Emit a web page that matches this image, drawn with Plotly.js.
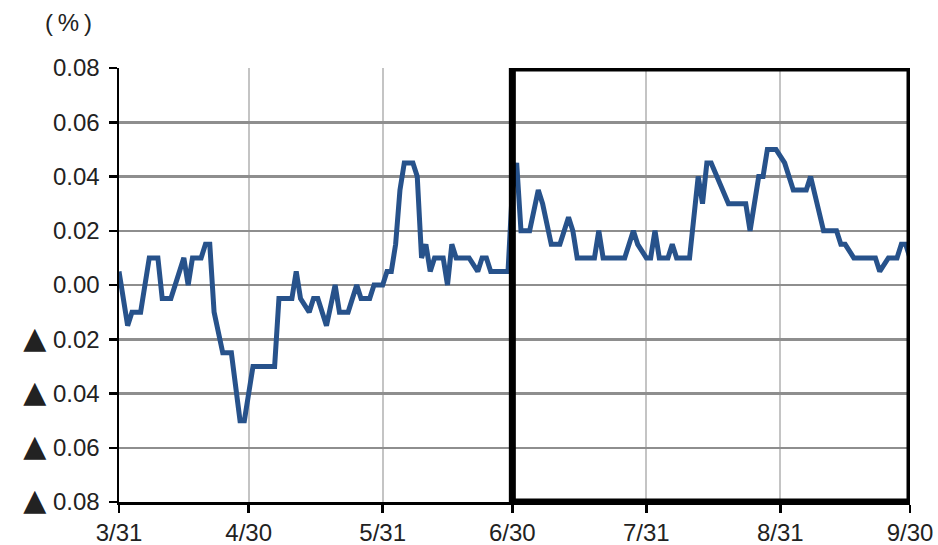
<!DOCTYPE html>
<html>
<head>
<meta charset="utf-8">
<script src="https://cdn.plot.ly/plotly-3.0.1.min.js"></script>
<style>
  html, body { margin: 0; padding: 0; background: #ffffff; }
  #chart { width: 938px; height: 545px; }
</style>
</head>
<body>
<div id="chart"></div>
<script>
// Daily spread (%) from 3/31 to 9/30
const dates = [
  '2014-03-31','2014-04-02','2014-04-03','2014-04-05','2014-04-07','2014-04-09','2014-04-10','2014-04-12',
  '2014-04-15','2014-04-16','2014-04-17','2014-04-19','2014-04-20','2014-04-21','2014-04-22','2014-04-24',
  '2014-04-26','2014-04-28','2014-04-29','2014-05-01','2014-05-06','2014-05-07','2014-05-10','2014-05-11',
  '2014-05-12','2014-05-14','2014-05-15','2014-05-16','2014-05-18','2014-05-20','2014-05-21','2014-05-23',
  '2014-05-25','2014-05-26','2014-05-28','2014-05-29','2014-05-31','2014-06-01','2014-06-02','2014-06-03',
  '2014-06-04','2014-06-05','2014-06-07','2014-06-08','2014-06-09','2014-06-10','2014-06-11','2014-06-12',
  '2014-06-14','2014-06-15','2014-06-16','2014-06-17','2014-06-20','2014-06-22','2014-06-23','2014-06-24',
  '2014-06-25','2014-06-29','2014-06-30','2014-07-01','2014-07-02','2014-07-04','2014-07-06','2014-07-07',
  '2014-07-09','2014-07-11','2014-07-13','2014-07-14','2014-07-15','2014-07-19','2014-07-20','2014-07-21',
  '2014-07-26','2014-07-28','2014-07-29','2014-07-31','2014-08-01','2014-08-02','2014-08-03','2014-08-05',
  '2014-08-06','2014-08-07','2014-08-10','2014-08-12','2014-08-13','2014-08-14','2014-08-15','2014-08-19',
  '2014-08-23','2014-08-24','2014-08-26','2014-08-27','2014-08-28','2014-08-30','2014-09-01','2014-09-03',
  '2014-09-06','2014-09-07','2014-09-10','2014-09-13','2014-09-14','2014-09-15','2014-09-17','2014-09-22',
  '2014-09-23','2014-09-25','2014-09-27','2014-09-28','2014-09-29','2014-09-30'
];
const spread = [
  0.005,-0.015,-0.01,-0.01,0.01,0.01,-0.005,-0.005,
  0.01,0,0.01,0.01,0.015,0.015,-0.01,-0.025,
  -0.025,-0.05,-0.05,-0.03,-0.03,-0.005,-0.005,0.005,
  -0.005,-0.01,-0.005,-0.005,-0.015,0,-0.01,-0.01,
  0,-0.005,-0.005,0,0,0.005,0.005,0.015,
  0.035,0.045,0.045,0.04,0.01,0.015,0.005,0.01,
  0.01,0,0.015,0.01,0.01,0.005,0.01,0.01,
  0.005,0.005,0.035,0.045,0.02,0.02,0.035,0.03,
  0.015,0.015,0.025,0.02,0.01,0.01,0.02,0.01,
  0.01,0.02,0.015,0.01,0.01,0.02,0.01,0.01,
  0.015,0.01,0.01,0.04,0.03,0.045,0.045,0.03,
  0.03,0.02,0.04,0.04,0.05,0.05,0.045,0.035,
  0.035,0.04,0.02,0.02,0.015,0.015,0.01,0.01,
  0.005,0.01,0.01,0.015,0.015,0.01
];

// Axis ticks
const xTickVals = ['2014-03-31','2014-04-30','2014-05-31','2014-06-30','2014-07-31','2014-08-31','2014-09-30'];
const xTickText = ['3/31','4/30','5/31','6/30','7/31','8/31','9/30'];
const yTickVals = [0.08,0.06,0.04,0.02,0,-0.02,-0.04,-0.06,-0.08];
const yTickText = ['0.08','0.06','0.04','0.02','0.00','▲ 0.02','▲ 0.04','▲ 0.06','▲ 0.08'];

// Highlighted period
const boxStart = '2014-06-30';
const boxEnd = '2014-09-30';

const labelFont = { family: 'Liberation Sans, Arial, DejaVu Sans, sans-serif', size: 24, color: '#222222' };

// Negative values are marked with a large solid triangle
const triangleStyle = 'font-family:DejaVu Sans;font-size:30px';
const yTickHtml = yTickText.map(t =>
  t.startsWith('▲') ? '<span style="' + triangleStyle + '">▲</span>' + t.slice(1) : t
);

const trace = {
  x: dates,
  y: spread,
  type: 'scatter',
  mode: 'lines',
  line: { color: '#27528b', width: 5 },
  hoverinfo: 'x+y'
};

const layout = {
  width: 938,
  height: 545,
  margin: { l: 119, r: 28, t: 68, b: 43 },
  paper_bgcolor: '#ffffff',
  plot_bgcolor: '#ffffff',
  showlegend: false,
  font: labelFont,
  xaxis: {
    type: 'date',
    range: ['2014-03-31', '2014-09-30'],
    tickmode: 'array',
    tickvals: xTickVals,
    ticktext: xTickText,
    showgrid: true,
    gridcolor: '#c4c4c4',
    gridwidth: 2,
    showline: true,
    linecolor: '#000000',
    linewidth: 2.5,
    ticks: 'outside',
    ticklen: 8,
    tickwidth: 2.5,
    tickcolor: '#000000',
    tickfont: labelFont,
    zeroline: false,
    fixedrange: true
  },
  yaxis: {
    range: [-0.08, 0.08],
    tickmode: 'array',
    tickvals: yTickVals,
    ticktext: yTickHtml,
    showgrid: true,
    gridcolor: '#8e8e8e',
    gridwidth: 2.5,
    showline: true,
    linecolor: '#000000',
    linewidth: 2.5,
    ticks: 'outside',
    ticklen: 8,
    tickwidth: 2.5,
    tickcolor: '#000000',
    tickfont: labelFont,
    ticklabelstandoff: 4,
    zeroline: false,
    fixedrange: true
  },
  shapes: [{
    type: 'rect',
    xref: 'x', yref: 'y',
    x0: boxStart, x1: boxEnd,
    y0: -0.08, y1: 0.08,
    line: { color: '#000000', width: 7 },
    fillcolor: 'rgba(0,0,0,0)',
    layer: 'above'
  }],
  annotations: [{
    xref: 'paper', yref: 'paper',
    x: -0.064, y: 1.07,
    xanchor: 'center', yanchor: 'bottom',
    text: '(\u2009%\u2009)',
    showarrow: false,
    font: labelFont
  }]
};

Plotly.newPlot('chart', [trace], layout, { displayModeBar: false, staticPlot: true });
</script>
</body>
</html>
